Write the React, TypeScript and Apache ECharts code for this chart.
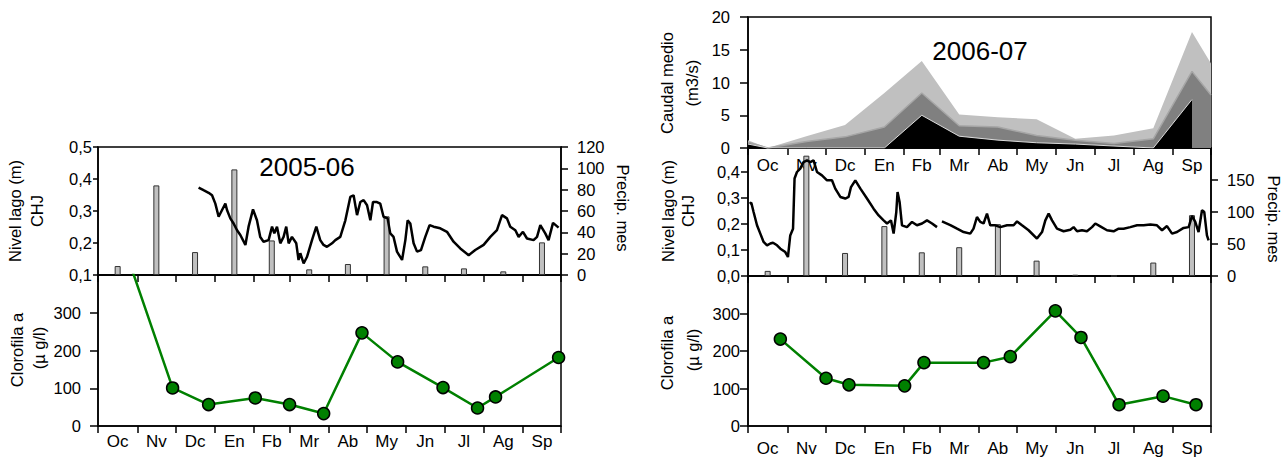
import React, { useEffect, useRef } from 'react';
import * as echarts from 'echarts';

// ---- categories / axes ----
const monthLabels = ['Oc', 'Nv', 'Dc', 'En', 'Fb', 'Mr', 'Ab', 'My', 'Jn', 'Jl', 'Ag', 'Sp'];
const monthStarts = [0, 31, 61, 92, 123, 151, 182, 212, 243, 273, 304, 335, 365];

// ---- 2005-06 ----
const precipLeft = [8.4, 84, 21.5, 99, 32.4, 5.3, 10.3, 55, 8.1, 6.2, 3.4, 30.6];
const nivelLeftDays = [79.3, 83.2, 87.2, 89.9, 92.5, 95.1, 97.8, 100.4, 101.7, 104.3, 106.9, 109.6, 112.2, 116.2, 118.7, 122.2, 125.3, 127.9, 130.5, 134.5, 137.2, 139.0, 141.1, 143.7, 146.3, 148.4, 150.3, 152.9, 156.3, 158.1, 159.5, 162.1, 164.8, 168.7, 172.1, 175.2, 177.8, 180.5, 184.5, 187.1, 191.0, 195.0, 198.9, 201.5, 204.2, 206.8, 209.4, 212.1, 214.7, 216.8, 219.9, 222.5, 225.1, 228.3, 230.4, 233.0, 235.7, 239.7, 242.3, 244.1, 246.2, 248.8, 251.5, 254.6, 258.0, 261.4, 264.6, 269.8, 275.1, 280.3, 285.6, 292.2, 297.4, 304.0, 309.3, 314.5, 318.5, 322.4, 325.0, 329.0, 331.6, 335.0, 338.2, 343.4, 346.1, 348.7, 352.6, 355.2, 358.7, 363.1];
const nivelLeftVals = [0.373, 0.365, 0.357, 0.349, 0.323, 0.282, 0.303, 0.323, 0.303, 0.277, 0.261, 0.240, 0.225, 0.194, 0.251, 0.305, 0.271, 0.219, 0.204, 0.209, 0.251, 0.230, 0.251, 0.199, 0.219, 0.251, 0.199, 0.219, 0.199, 0.147, 0.168, 0.136, 0.157, 0.209, 0.251, 0.209, 0.194, 0.188, 0.199, 0.209, 0.219, 0.271, 0.344, 0.349, 0.287, 0.328, 0.334, 0.318, 0.271, 0.328, 0.328, 0.323, 0.282, 0.277, 0.230, 0.219, 0.173, 0.147, 0.209, 0.271, 0.261, 0.199, 0.173, 0.178, 0.219, 0.256, 0.251, 0.246, 0.235, 0.204, 0.183, 0.162, 0.178, 0.194, 0.219, 0.240, 0.287, 0.277, 0.251, 0.240, 0.219, 0.235, 0.214, 0.209, 0.219, 0.256, 0.230, 0.209, 0.263, 0.248];
const chlLeftDays = [18, 58.8, 87.2, 124.0, 151.0, 177.9, 208.1, 236.2, 272.0, 299.2, 313.4, 363.1];
const chlLeftVals = [500, 100.8, 56.8, 74.3, 56.8, 32.9, 246.7, 169.8, 101.8, 47.7, 77, 181.4];

// ---- 2006-07 ----
const caudalTotal = [1.2, 0, 1.8, 3.5, 8.4, 13.3, 5.1, 4.7, 4.4, 1.4, 1.9, 3.0, 17.7, 12.9];
const caudalMid = [0.9, 0, 1.0, 1.7, 3.2, 8.4, 3.4, 3.2, 1.9, 1.2, 0.7, 1.4, 11.7, 8.1];
const caudalLow = [0.6, 0, 0, 0, 0, 5.0, 1.8, 1.2, 0.8, 0.6, 0.3, 0, 7.4];
const precipRight = [8, 188, 36, 78, 37, 45, 81, 24, 2, 0, 21, 95];
const nivelRightDays = [1.3, 2.6, 4.4, 7.1, 9.7, 12.3, 15.0, 17.6, 19.7, 22.9, 25.5, 29.4, 31.5, 33.3, 35.5, 36.7, 38.6, 41.2, 43.8, 46.5, 49.1, 51.7, 54.4, 58.3, 62.3, 66.2, 68.8, 72.8, 76.7, 79.3, 81.2, 84.6, 88.6, 93.8, 99.0, 103.0, 106.9, 109.6, 112.7, 114.8, 116.9, 117.9, 119.5, 121.4, 125.3, 129.3, 133.2, 137.2, 141.1, 145.1, 149.0, 151.0, 152.9, 159.5, 164.8, 170.0, 175.2, 177.8, 180.5, 183.1, 185.7, 188.4, 191.0, 195.0, 198.9, 204.2, 209.4, 212.1, 216.0, 221.2, 227.8, 231.8, 234.4, 237.0, 239.7, 243.6, 248.8, 254.1, 256.7, 259.4, 263.3, 267.2, 271.2, 273.8, 277.7, 283.0, 288.2, 292.2, 296.1, 301.4, 306.7, 311.9, 317.2, 322.4, 326.4, 330.3, 334.3, 338.2, 343.4, 347.4, 350.0, 352.6, 355.2, 357.9, 359.7, 361.8, 363.1];
const nivelRightVals: (number | null)[] = [0.278, 0.282, 0.246, 0.195, 0.163, 0.131, 0.118, 0.125, 0.128, 0.118, 0.105, 0.092, 0.073, 0.156, 0.182, 0.375, 0.400, 0.413, 0.438, 0.445, 0.438, 0.445, 0.400, 0.387, 0.368, 0.368, 0.336, 0.304, 0.298, 0.304, 0.342, 0.368, 0.336, 0.298, 0.259, 0.233, 0.214, 0.202, 0.214, 0.163, 0.246, 0.323, 0.285, 0.195, 0.188, 0.208, 0.195, 0.202, 0.214, 0.202, 0.188, null, 0.210, 0.196, 0.182, 0.169, 0.163, 0.182, 0.227, 0.208, 0.202, 0.240, 0.195, 0.195, 0.188, 0.195, 0.195, 0.210, 0.195, 0.176, 0.144, 0.169, 0.214, 0.240, 0.214, 0.182, 0.172, 0.178, 0.188, 0.172, 0.176, 0.172, 0.188, 0.202, 0.191, 0.176, 0.172, 0.182, 0.182, 0.188, 0.195, 0.195, 0.198, 0.195, 0.176, 0.192, 0.163, 0.169, 0.185, 0.188, 0.231, 0.208, 0.169, 0.253, 0.246, 0.156, 0.137];
const chlRightDays = [25.5, 61.5, 79.6, 123.5, 138.7, 185.7, 206.8, 242.3, 262.5, 292.5, 327.2, 353.2];
const chlRightVals = [231.8, 127.3, 109.8, 107.1, 169, 169, 184.9, 306.9, 236.1, 56.8, 79.6, 56.8];

const FONT = '"Liberation Sans", Arial, sans-serif';
const monthCenters = monthStarts.slice(0, -1).map((s, i) => (s + monthStarts[i + 1]) / 2);
const zip = (xs: number[], ys: (number | null)[]) => xs.map((x, i) => [x, ys[i] === null ? '-' : ys[i]]);
const comma = (v: number) => v.toFixed(1).replace('.', ',');

function xAx(gridIndex: number, showLabels: boolean, margin: number) {
  return {
    type: 'value', gridIndex, min: 0, max: 365, position: 'bottom',
    axisLine: { show: true, onZero: false, lineStyle: { color: '#000', width: 1.5 } },
    axisTick: { show: true, customValues: monthStarts, length: 7, lineStyle: { color: '#000', width: 1.5 } },
    axisLabel: {
      show: showLabels, customValues: monthCenters, margin, fontSize: 17, color: '#000', fontFamily: FONT,
      formatter: (v: number) => {
        const i = monthCenters.findIndex((c) => Math.abs(c - v) < 0.01);
        return i >= 0 ? monthLabels[i] : '';
      },
    },
    splitLine: { show: false },
  };
}

function yAx(gridIndex: number, o: any) {
  return {
    type: 'value', gridIndex, position: o.position || 'left', min: o.min, max: o.max, interval: o.interval,
    axisLine: { show: true, onZero: false, lineStyle: { color: '#000', width: 1.5 } },
    axisTick: { show: true, length: o.tick, lineStyle: { color: '#000', width: 1.5 } },
    axisLabel: {
      show: true, margin: o.margin, fontSize: 16.5, color: '#000', fontFamily: FONT,
      showMaxLabel: o.showMax !== false, formatter: o.formatter,
    },
    splitLine: { show: false },
  };
}

const gridBase = { show: true, borderColor: '#000', borderWidth: 1.5, backgroundColor: 'transparent' };

function vText(text: string, x: number, y: number, rot: number, size = 16.5) {
  return {
    type: 'text', x, y, rotation: rot, z: 100,
    style: { text, fontSize: size, fontFamily: FONT, fill: '#000', align: 'center', verticalAlign: 'middle' },
  };
}

export default function App() {
  const ref = useRef<HTMLDivElement>(null);
  useEffect(() => {
    const chart = echarts.init(ref.current!, null, { renderer: 'svg' });
    const caudalDays = [0, ...monthCenters, 365];
    const barStyle = { color: '#c0c0c0', borderColor: '#333', borderWidth: 1 };
    const chlSeries = (xi: number, yi: number, xs: number[], ys: number[]) => ({
      type: 'line', xAxisIndex: xi, yAxisIndex: yi, data: zip(xs, ys), clip: true,
      symbol: 'circle', symbolSize: 12, showSymbol: true,
      lineStyle: { color: '#008000', width: 2.5 },
      itemStyle: { color: '#008000', borderColor: '#000', borderWidth: 1.5 },
      z: 5,
    });
    const option: any = {
      animation: false,
      textStyle: { fontFamily: FONT },
      grid: [
        { ...gridBase, left: 98, top: 147, width: 463, height: 128 },
        { ...gridBase, left: 98, top: 275, width: 463, height: 151 },
        { ...gridBase, left: 748, top: 17, width: 463, height: 131 },
        { ...gridBase, left: 748, top: 148, width: 463, height: 128 },
        { ...gridBase, left: 748, top: 276, width: 463, height: 150 },
      ],
      xAxis: [xAx(0, false, 8), xAx(1, true, 7), xAx(2, true, 9), xAx(3, false, 8), xAx(4, true, 14)],
      yAxis: [
        yAx(0, { min: 0.1, max: 0.5, interval: 0.1, tick: 5, margin: 6, formatter: comma }),
        yAx(0, { position: 'right', min: 0, max: 120, interval: 20, tick: 7, margin: 16 }),
        yAx(1, { min: 0, max: 400, interval: 100, tick: 8, margin: 17, showMax: false }),
        yAx(2, { min: 0, max: 20, interval: 5, tick: 8, margin: 18 }),
        yAx(3, { min: 0, max: 0.4923, interval: 0.1, tick: 7, margin: 8, showMax: false, formatter: comma }),
        yAx(3, { position: 'right', min: 0, max: 200, interval: 50, tick: 7, margin: 16, showMax: false }),
        yAx(4, { min: 0, max: 400, interval: 100, tick: 8, margin: 8, showMax: false }),
      ],
      series: [
        { type: 'bar', xAxisIndex: 0, yAxisIndex: 1, barWidth: 6, data: zip(monthCenters, precipLeft), itemStyle: barStyle, z: 2 },
        { type: 'line', xAxisIndex: 0, yAxisIndex: 0, data: zip(nivelLeftDays, nivelLeftVals), showSymbol: false, lineStyle: { color: '#000', width: 2.5 }, z: 3 },
        chlSeries(1, 2, chlLeftDays, chlLeftVals),
        { type: 'line', xAxisIndex: 2, yAxisIndex: 3, data: zip(caudalDays, caudalTotal), showSymbol: false, lineStyle: { width: 0 }, areaStyle: { color: '#c0c0c0', opacity: 1 }, z: 2 },
        { type: 'line', xAxisIndex: 2, yAxisIndex: 3, data: zip(caudalDays, caudalMid), showSymbol: false, lineStyle: { color: '#a6a6a6', width: 1.5 }, areaStyle: { color: '#808080', opacity: 1 }, z: 3 },
        { type: 'line', xAxisIndex: 2, yAxisIndex: 3, data: zip(caudalDays.slice(0, caudalLow.length), caudalLow), showSymbol: false, lineStyle: { color: '#dcdcdc', width: 1 }, areaStyle: { color: '#000', opacity: 1 }, z: 4 },
        { type: 'bar', xAxisIndex: 3, yAxisIndex: 5, barWidth: 6, data: zip(monthCenters, precipRight), itemStyle: barStyle, z: 2 },
        { type: 'line', xAxisIndex: 3, yAxisIndex: 4, data: zip(nivelRightDays, nivelRightVals), showSymbol: false, connectNulls: false, lineStyle: { color: '#000', width: 2.5 }, z: 3 },
        chlSeries(4, 6, chlRightDays, chlRightVals),
      ],
      graphic: [
        { type: 'text', x: 307, y: 167, z: 100, style: { text: '2005-06', fontSize: 26, fontFamily: FONT, fill: '#000', align: 'center', verticalAlign: 'middle' } },
        { type: 'text', x: 980, y: 51, z: 100, style: { text: '2006-07', fontSize: 26, fontFamily: FONT, fill: '#000', align: 'center', verticalAlign: 'middle' } },
        vText('Nivel lago (m)', 15, 211, Math.PI / 2),
        vText('CHJ', 37, 211, Math.PI / 2),
        vText('Clorofila a', 17, 350, Math.PI / 2),
        vText('(µ g/l)', 39, 348, Math.PI / 2),
        vText('Precip. mes', 623, 208, -Math.PI / 2),
        vText('Caudal medio', 667, 83, Math.PI / 2),
        vText('(m3/s)', 692, 83, Math.PI / 2),
        vText('Nivel lago (m)', 668, 211, Math.PI / 2),
        vText('CHJ', 688, 211, Math.PI / 2),
        vText('Clorofila a', 667, 353, Math.PI / 2),
        vText('(µ g/l)', 693, 350, Math.PI / 2),
        vText('Precip. mes', 1274, 219, -Math.PI / 2),
      ],
    };
    chart.setOption(option);
    return () => chart.dispose();
  }, []);
  return <div ref={ref} style={{ position: 'absolute', left: 0, top: 0, width: 1288, height: 459 }} />;
}
